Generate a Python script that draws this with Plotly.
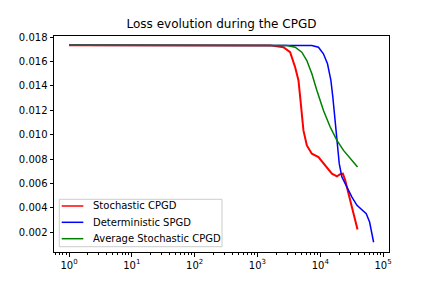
import plotly.graph_objects as go

# Iterations (x) and loss values (y)
stoch_x = [1, 1000, 1585, 2588, 3311, 3981, 4498, 4786, 5082, 5395, 6109, 7345, 9354,
           11967, 15311, 18408, 20749, 22909, 24946, 28184, 31915, 36058, 39174]
stoch_y = [0.01735, 0.01735, 0.01733, 0.01718, 0.01677, 0.01554, 0.01445, 0.01308, 0.01172,
           0.01035, 0.00912, 0.00844, 0.00816, 0.00748, 0.0068, 0.00658, 0.00675, 0.0068,
           0.00625, 0.00516, 0.00407, 0.00298, 0.00222]

det_x = [1, 3000, 7345, 9354, 11220, 13032, 14757, 15849, 16866, 17742, 18836, 20045,
         22080, 26546, 31915, 38371, 46132, 53951, 60954, 66374, 70632]
det_y = [0.01735, 0.01735, 0.01732, 0.01718, 0.01664, 0.01582, 0.01445, 0.01308, 0.01172,
         0.01035, 0.00898, 0.00762, 0.00652, 0.0057, 0.00488, 0.0042, 0.0038, 0.00352,
         0.00283, 0.00188, 0.00117]

avg_x = [1, 1000, 2931, 3981, 5082, 6109, 7345, 8831, 11246, 14388, 18408, 23442, 29992, 39174]
avg_y = [0.01735, 0.01735, 0.01732, 0.01718, 0.01677, 0.01609, 0.015, 0.01363, 0.01199,
         0.01063, 0.00953, 0.00871, 0.00803, 0.00734]

series_names = ["Stochastic CPGD", "Deterministic SPGD", "Average Stochastic CPGD"]
series_colors = ["red", "blue", "green"]

y_ticks = [0.002, 0.004, 0.006, 0.008, 0.010, 0.012, 0.014, 0.016, 0.018]
x_ticks = [1, 10, 100, 1000, 10000, 100000]
x_tick_labels = ["10<sup>0</sup>", "10<sup>1</sup>", "10<sup>2</sup>",
                 "10<sup>3</sup>", "10<sup>4</sup>", "10<sup>5</sup>"]

minor_vals = [m * 10 ** k for k in range(-1, 6) for m in range(2, 10)]

fig = go.Figure()
series = [(stoch_x, stoch_y, 2), (det_x, det_y, 1.5), (avg_x, avg_y, 1.5)]
for (xs, ys, w), name, color in zip(series, series_names, series_colors):
    fig.add_trace(go.Scatter(x=xs, y=ys, mode="lines", name=name,
                             line=dict(color=color, width=w), showlegend=False))

axis_common = dict(showline=True, linecolor="black", linewidth=1, mirror=True,
                   ticks="outside", ticklen=3.5, tickwidth=0.8, tickcolor="black",
                   showgrid=False, zeroline=False,
                   tickfont=dict(family="DejaVu Sans", size=10, color="black"))

fig.update_xaxes(type="log", range=[-0.239, 5.094], tickmode="array",
                 tickvals=x_ticks, ticktext=x_tick_labels,
                 minor=dict(ticks="outside", ticklen=2, tickwidth=0.6, tickcolor="black",
                            tickmode="array", tickvals=minor_vals, showgrid=False),
                 **axis_common)
fig.update_yaxes(range=[0.00037, 0.0181], tickmode="array", tickvals=y_ticks,
                 tickformat=".3f", **axis_common)

# Legend box (drawn in matplotlib style)
fig.add_shape(type="rect", xref="paper", yref="paper", x0=0.0158, x1=0.5015,
              y0=0.0245, y1=0.244, line=dict(color="#cccccc", width=1),
              fillcolor="rgba(255,255,255,0.8)", layer="above")
row_y = [0.213, 0.1375, 0.0616]
for name, color, ry in zip(series_names, series_colors, row_y):
    fig.add_shape(type="line", xref="paper", yref="paper", x0=0.023, x1=0.0875,
                  y0=ry, y1=ry, line=dict(color=color, width=1.5), layer="above")
    fig.add_annotation(text=name, xref="paper", yref="paper", x=0.1104, y=ry,
                       xanchor="left", yanchor="middle", showarrow=False,
                       font=dict(family="DejaVu Sans", size=10, color="black"))

fig.update_layout(
    width=432, height=288,
    margin=dict(l=54, r=43, t=36, b=36),
    paper_bgcolor="white", plot_bgcolor="white",
    font=dict(family="DejaVu Sans", size=10, color="black"),
    title=dict(text="Loss evolution during the CPGD", x=0.5, xref="paper",
               y=1 - 24 / 288, yanchor="middle",
               font=dict(family="DejaVu Sans", size=12, color="black")),
    showlegend=False,
)

fig.write_html("out.html", config={"displayModeBar": False},
               post_script="document.body.style.margin='0';document.body.style.overflow='hidden';")
